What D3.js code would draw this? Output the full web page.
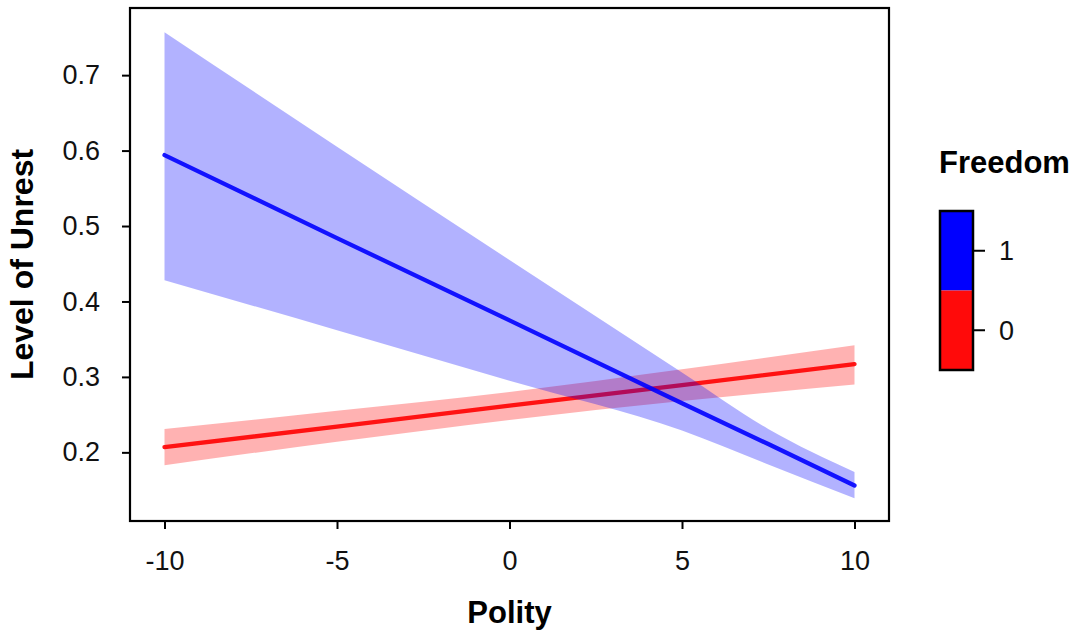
<!DOCTYPE html>
<html>
<head>
<meta charset="utf-8">
<script src="https://cdn.jsdelivr.net/npm/d3@7"></script>
<style>
  html, body { margin: 0; padding: 0; background: #fff; }
  svg { display: block; font-family: "Liberation Sans", Arial, sans-serif; }
</style>
</head>
<body>
<svg id="chart" width="1081" height="632"></svg>
<script>
// ---- data ----
const blueX     = [-10, -5, 0, 5, 7.5, 10];
const blueFit   = [0.594, 0.484, 0.375, 0.265, 0.211, 0.156];
const blueUpper = [0.757, 0.605, 0.455, 0.306, 0.231, 0.174];
const blueLower = [0.428, 0.362, 0.295, 0.229, 0.184, 0.139];

const redX      = [-10, -5, 0, 5, 10];
const redFit    = [0.207, 0.234, 0.262, 0.289, 0.317];
const redUpper  = [0.231, 0.255, 0.280, 0.310, 0.342];
const redLower  = [0.183, 0.214, 0.243, 0.268, 0.290];

const xTicks = [-10, -5, 0, 5, 10];
const yTicks = [0.2, 0.3, 0.4, 0.5, 0.6, 0.7];
const legendLevels = ["1", "0"];
const legendColors = ["#0000ff", "#ff0a0a"];

// ---- layout ----
const svg = d3.select("#chart");
const panel = { left: 130, right: 889, top: 8, bottom: 521 };

const x = d3.scaleLinear().domain([-11, 11]).range([panel.left, panel.right]);
const y = d3.scaleLinear().domain([0.109, 0.789]).range([panel.bottom, panel.top]);

function rows(xs, fit, lo, hi) {
  return xs.map((v, i) => ({ x: v, fit: fit[i], lo: lo[i], hi: hi[i] }));
}
const redData = rows(redX, redFit, redLower, redUpper);
const blueData = rows(blueX, blueFit, blueLower, blueUpper);

const area = d3.area().curve(d3.curveMonotoneX)
  .x(d => x(d.x)).y0(d => y(d.lo)).y1(d => y(d.hi));
const line = d3.line().x(d => x(d.x)).y(d => y(d.fit));

const g = svg.append("g");

// red ribbon + line
g.append("path").datum(redData).attr("d", area)
  .attr("fill", "#ff0000").attr("fill-opacity", 0.3);
g.append("path").datum(redData).attr("d", line)
  .attr("fill", "none").attr("stroke", "#ff0000").attr("stroke-opacity", 0.9)
  .attr("stroke-width", 4.3).attr("stroke-linecap", "round");

// blue ribbon + line
g.append("path").datum(blueData).attr("d", area)
  .attr("fill", "#0000ff").attr("fill-opacity", 0.3);
g.append("path").datum(blueData).attr("d", line)
  .attr("fill", "none").attr("stroke", "#0000ff").attr("stroke-opacity", 0.9)
  .attr("stroke-width", 4.3).attr("stroke-linecap", "round");

// panel border
svg.append("rect")
  .attr("x", panel.left).attr("y", panel.top)
  .attr("width", panel.right - panel.left).attr("height", panel.bottom - panel.top)
  .attr("fill", "none").attr("stroke", "#000").attr("stroke-width", 2.2);

// x axis
const xAxis = d3.axisBottom(x).tickValues(xTicks).tickSize(8).tickPadding(22)
  .tickFormat(d => d3.format("d")(d).replace("−", "-"));
const xg = svg.append("g").attr("transform", `translate(0,${panel.bottom})`).call(xAxis);
xg.select(".domain").remove();
xg.selectAll(".tick line").attr("stroke", "#000").attr("stroke-width", 2);
xg.selectAll(".tick text").attr("fill", "#111").attr("font-size", 27)
  .attr("font-family", "Liberation Sans, Arial, sans-serif");

// y axis
const yAxis = d3.axisLeft(y).tickValues(yTicks).tickSize(8).tickPadding(22)
  .tickFormat(d3.format(".1f"));
const yg = svg.append("g").attr("transform", `translate(${panel.left},0)`).call(yAxis);
yg.select(".domain").remove();
yg.selectAll(".tick line").attr("stroke", "#000").attr("stroke-width", 2);
yg.selectAll(".tick text").attr("fill", "#111").attr("font-size", 27)
  .attr("font-family", "Liberation Sans, Arial, sans-serif");

// axis titles
svg.append("text")
  .attr("x", (panel.left + panel.right) / 2).attr("y", 623)
  .attr("text-anchor", "middle").attr("font-size", 31).attr("font-weight", "bold")
  .attr("fill", "#000").text("Polity");

svg.append("text")
  .attr("transform", `translate(33,${(panel.top + panel.bottom) / 2}) rotate(-90)`)
  .attr("text-anchor", "middle").attr("font-size", 32).attr("font-weight", "bold")
  .attr("fill", "#000").text("Level of Unrest");

// legend
const leg = svg.append("g");
leg.append("text").attr("x", 939).attr("y", 173)
  .attr("font-size", 31).attr("font-weight", "bold").attr("fill", "#000").text("Freedom");

const lb = d3.scaleBand().domain(legendLevels).range([211, 370]);
leg.selectAll("rect.key").data(legendLevels).enter().append("rect")
  .attr("class", "key")
  .attr("x", 940).attr("width", 33)
  .attr("y", d => lb(d)).attr("height", lb.bandwidth())
  .attr("fill", (d, i) => legendColors[i]);
leg.append("rect").attr("x", 940).attr("y", 211).attr("width", 33).attr("height", 159)
  .attr("fill", "none").attr("stroke", "#000").attr("stroke-width", 2.5);
leg.selectAll("line.tk").data(legendLevels).enter().append("line")
  .attr("x1", 973).attr("x2", 985)
  .attr("y1", d => lb(d) + lb.bandwidth() / 2).attr("y2", d => lb(d) + lb.bandwidth() / 2)
  .attr("stroke", "#000").attr("stroke-width", 2);
leg.selectAll("text.lab").data(legendLevels).enter().append("text")
  .attr("x", 999).attr("y", d => lb(d) + lb.bandwidth() / 2)
  .attr("dy", "0.36em").attr("font-size", 27).attr("fill", "#111").text(d => d);
</script>
</body>
</html>
